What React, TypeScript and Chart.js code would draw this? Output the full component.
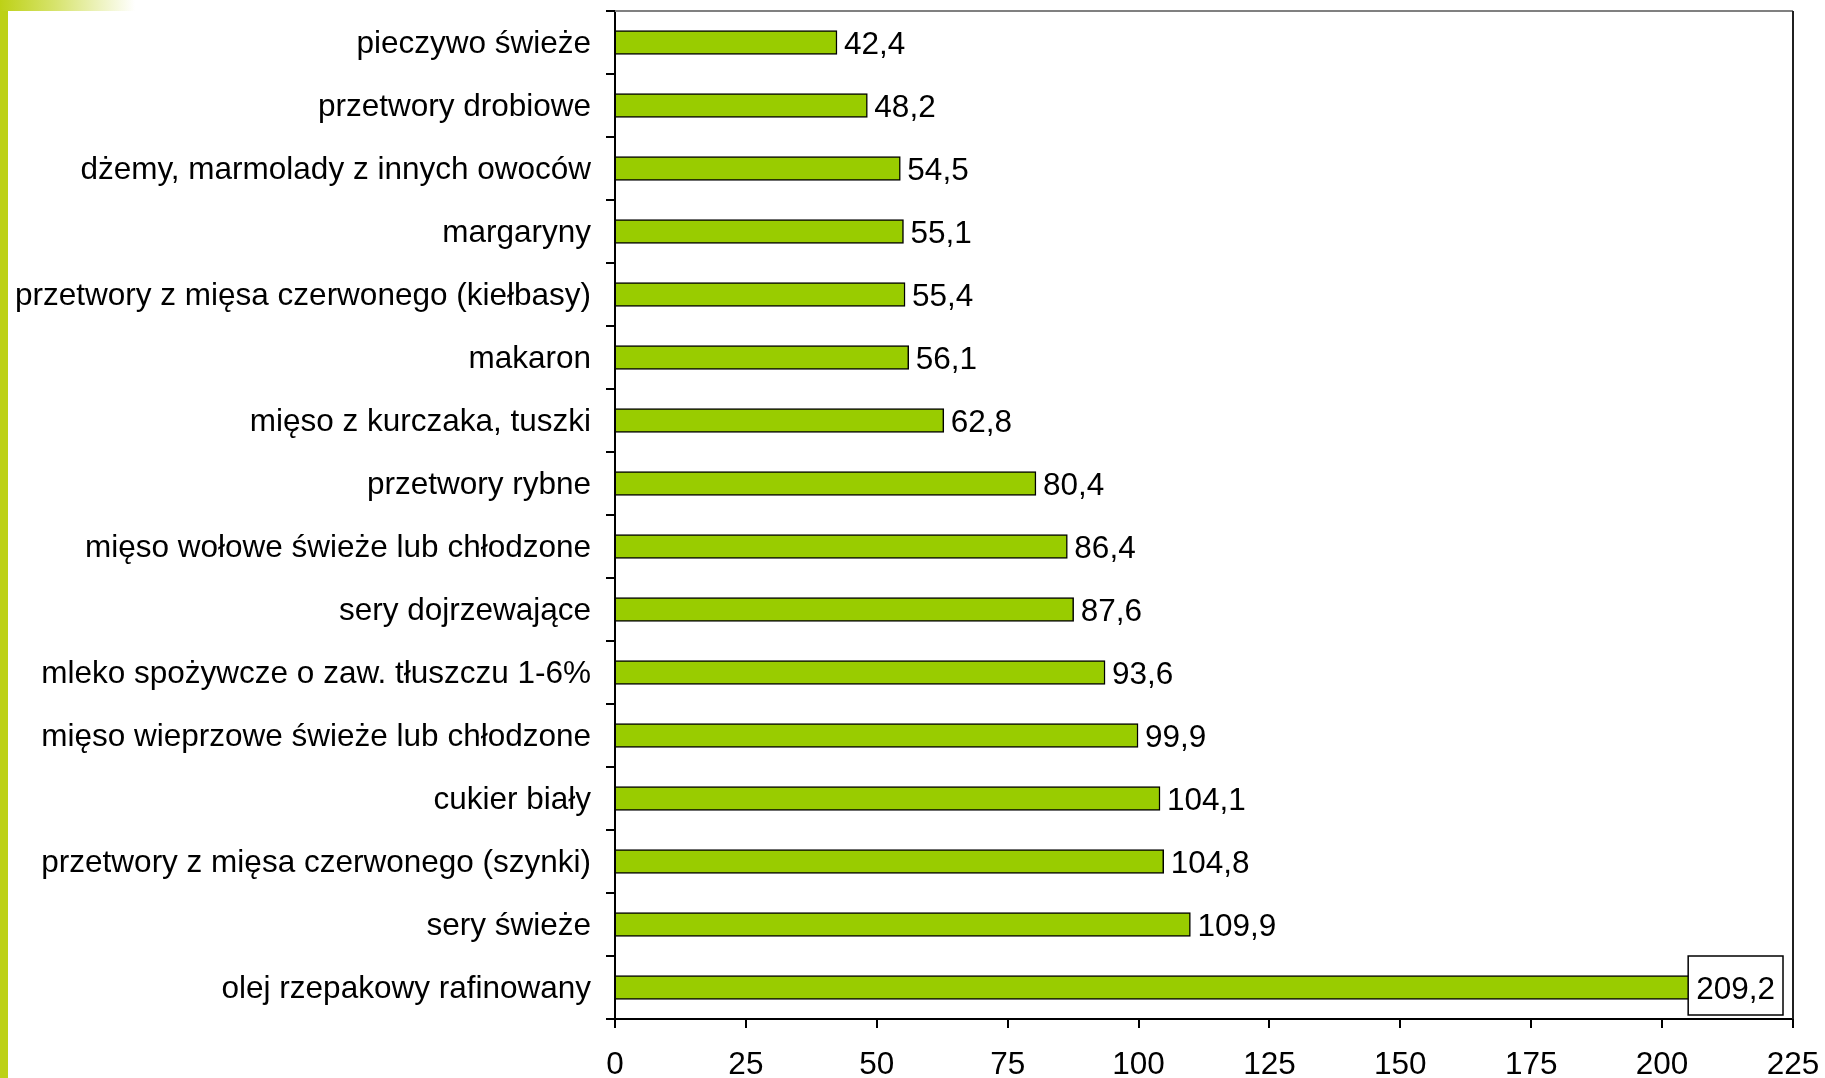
import React, { useEffect, useRef } from "react";
import { Chart, registerables } from "chart.js";

Chart.register(...registerables);

const categories = [
  "pieczywo świeże",
  "przetwory drobiowe",
  "dżemy, marmolady z innych owoców",
  "margaryny",
  "przetwory z mięsa czerwonego (kiełbasy)",
  "makaron",
  "mięso z kurczaka, tuszki",
  "przetwory rybne",
  "mięso wołowe świeże lub chłodzone",
  "sery dojrzewające",
  "mleko spożywcze o zaw. tłuszczu 1-6%",
  "mięso wieprzowe świeże lub chłodzone",
  "cukier biały",
  "przetwory z mięsa czerwonego (szynki)",
  "sery świeże",
  "olej rzepakowy rafinowany",
];

const values = [42.4, 48.2, 54.5, 55.1, 55.4, 56.1, 62.8, 80.4, 86.4, 87.6, 93.6, 99.9, 104.1, 104.8, 109.9, 209.2];

const xMin = 0;
const xMax = 225;
const xStep = 25;

const FONT = "'Liberation Sans', Arial, sans-serif";
const FONT_SIZE = 31.5;

const fmt = (v: number) => v.toFixed(1).replace(".", ",");

const labelPlugin = {
  id: "valueLabels",
  afterDatasetsDraw(chart: any) {
    const ctx = chart.ctx;
    const area = chart.chartArea;
    const meta = chart.getDatasetMeta(0);
    ctx.save();
    ctx.font = `${FONT_SIZE}px ${FONT}`;
    ctx.textBaseline = "middle";
    ctx.fillStyle = "#000";
    meta.data.forEach((el: any, i: number) => {
      const txt = fmt(values[i]);
      const w = ctx.measureText(txt).width;
      const x = el.x + 7;
      const y = el.y + 3;
      if (x + w + 10 > area.right) {
        const padX = 8;
        const boxW = w + padX * 2;
        const boxH = 59;
        const bx = area.right - 10 - boxW;
        const by = el.y - boxH / 2 - 2;
        ctx.fillStyle = "#fff";
        ctx.fillRect(bx, by, boxW, boxH);
        ctx.strokeStyle = "#000";
        ctx.lineWidth = 1.5;
        ctx.strokeRect(bx, by, boxW, boxH);
        ctx.fillStyle = "#000";
        ctx.textAlign = "left";
        ctx.fillText(txt, bx + padX, y);
      } else {
        ctx.textAlign = "left";
        ctx.fillText(txt, x, y);
      }
    });
    ctx.restore();
  },
  beforeDatasetsDraw(chart: any) {
    const ctx = chart.ctx;
    const a = chart.chartArea;
    ctx.save();
    ctx.lineWidth = 2;
    ctx.strokeStyle = "#808080";
    ctx.beginPath();
    ctx.moveTo(a.left, a.top);
    ctx.lineTo(a.right, a.top);
    ctx.stroke();
    ctx.strokeStyle = "#202020";
    ctx.beginPath();
    ctx.moveTo(a.right, a.top);
    ctx.lineTo(a.right, a.bottom);
    ctx.stroke();
    ctx.restore();
  },
};

export default function App() {
  const ref = useRef<HTMLCanvasElement | null>(null);
  useEffect(() => {
    document.body.style.margin = "0";
    if (!ref.current) return;
    const chart = new Chart(ref.current, {
      type: "bar",
      data: {
        labels: categories,
        datasets: [
          {
            data: values,
            backgroundColor: "#99CC00",
            borderColor: "#000",
            borderWidth: 1.5,
            barThickness: 24,
          },
        ],
      },
      options: {
        indexAxis: "y",
        animation: false,
        responsive: false,
        devicePixelRatio: 1,
        layout: { padding: { top: 11, right: 32, left: 0, bottom: 0 } },
        plugins: { legend: { display: false }, tooltip: { enabled: false } },
        scales: {
          x: {
            min: xMin,
            max: xMax,
            ticks: {
              stepSize: xStep,
              color: "#000",
              font: { family: FONT, size: FONT_SIZE },
              padding: 18,
              maxRotation: 0,
            },
            grid: { drawOnChartArea: false, drawTicks: true, tickLength: 9, color: "#000", lineWidth: 2 },
            border: { display: true, color: "#000", width: 2 },
            afterFit: (s: any) => {
              s.height = 59;
              s.paddingLeft = 0;
              s.paddingRight = 0;
            },
          },
          y: {
            ticks: {
              color: "#000",
              font: { family: FONT, size: FONT_SIZE },
              padding: 15,
              autoSkip: false,
              labelOffset: 2,
            },
            grid: { drawOnChartArea: false, drawTicks: true, tickLength: 9, color: "#000", lineWidth: 2, offset: true },
            border: { display: true, color: "#000", width: 2 },
            afterFit: (s: any) => {
              s.width = 615;
              s.paddingTop = 0;
              s.paddingBottom = 0;
            },
          },
        },
      },
      plugins: [labelPlugin],
    });
    return () => chart.destroy();
  }, []);
  return (
    <div style={{ position: "relative", width: 1825, height: 1078, background: "#fff" }}>
      <canvas ref={ref} width={1825} height={1078} style={{ position: "absolute", left: 0, top: 0 }} />
      <div style={{ position: "absolute", left: 0, top: 0, width: 8, height: 1078, background: "#BDD116" }} />
      <div
        style={{
          position: "absolute",
          left: 0,
          top: 0,
          width: 135,
          height: 11,
          background: "linear-gradient(to right, #BDD116 0%, #D6E36B 40%, #ffffff 100%)",
        }}
      />
    </div>
  );
}
